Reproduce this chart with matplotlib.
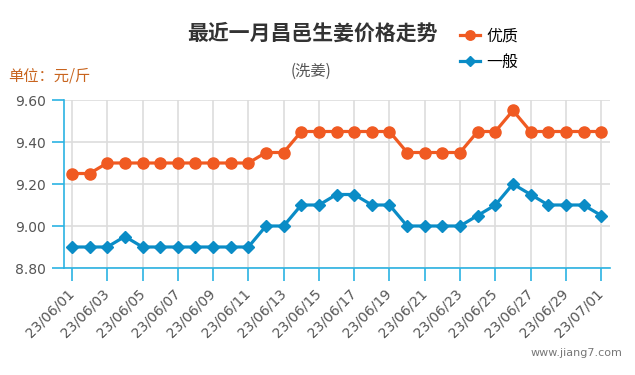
import matplotlib
matplotlib.use("Agg")
import matplotlib.pyplot as plt

plt.rcParams['font.family'] = ['Noto Sans CJK SC', 'DejaVu Sans']

dates = ["23/06/%02d" % d for d in range(1, 31)] + ["23/07/01"]
youzhi = [9.25, 9.25, 9.30, 9.30, 9.30, 9.30, 9.30, 9.30, 9.30, 9.30,
          9.30, 9.35, 9.35, 9.45, 9.45, 9.45, 9.45, 9.45, 9.45, 9.35,
          9.35, 9.35, 9.35, 9.45, 9.45, 9.55, 9.45, 9.45, 9.45, 9.45,
          9.45]
yiban = [8.90, 8.90, 8.90, 8.95, 8.90, 8.90, 8.90, 8.90, 8.90, 8.90,
         8.90, 9.00, 9.00, 9.10, 9.10, 9.15, 9.15, 9.10, 9.10, 9.00,
         9.00, 9.00, 9.00, 9.05, 9.10, 9.20, 9.15, 9.10, 9.10, 9.10,
         9.05]
yticks = [8.80, 9.00, 9.20, 9.40, 9.60]

orange = '#F05A22'
blue = '#0A8CC6'
axis_blue = '#2BB3E3'
txt = '#555555'

fig = plt.figure(figsize=(6.35, 3.75), dpi=100)
ax = fig.add_axes([64 / 635, 1 - 268 / 375, (610 - 64) / 635, (268 - 100) / 375])

x = list(range(len(dates)))
l1, = ax.plot(x, youzhi, color=orange, lw=2.3, marker='o', ms=8, label='优质', zorder=3)
l2, = ax.plot(x, yiban, color=blue, lw=2.3, marker='D', ms=6, label='一般', zorder=3)

ax.set_xlim(-0.45, 30.5)
ax.set_ylim(8.80, 9.60)
ax.set_yticks(yticks)
ax.set_yticklabels(["%.2f" % v for v in yticks], family='DejaVu Sans', fontsize=10, color=txt)
ax.set_xticks(x[::2])
ax.set_xticklabels(dates[::2], rotation=45, ha='right', va='center', rotation_mode='anchor',
                   family='DejaVu Sans', fontsize=10, color=txt)

ax.grid(True, color='#DDDDDD', lw=1.2, zorder=0)
ax.set_axisbelow(True)
for s in ['top', 'right']:
    ax.spines[s].set_visible(False)
for s in ['left', 'bottom']:
    ax.spines[s].set_color(axis_blue)
    ax.spines[s].set_linewidth(1.2)
ax.tick_params(axis='both', colors=axis_blue, length=9, width=1.2, labelcolor=txt)
ax.tick_params(axis='x', pad=8)
ax.tick_params(axis='y', pad=4)

fig.text(312 / 635, 1 - 33 / 375, '最近一月昌邑生姜价格走势', ha='center', va='center',
         fontsize=15, fontweight='bold', color='#333333')
fig.text(311 / 635, 1 - 71 / 375, '(洗姜)', ha='center', va='center', fontsize=11, color=txt)
fig.text(8 / 635, 1 - 76 / 375, '单位：元/斤', ha='left', va='center', fontsize=11, color='#C8641E')
fig.text(622 / 635, 1 - 353 / 375, 'www.jiang7.com', ha='right', va='center', fontsize=8,
         color='#777777', family='DejaVu Sans')

fig.legend(handles=[l1, l2], loc='upper left', bbox_to_anchor=(452 / 635, 1 - 20 / 375),
           frameon=False, fontsize=11.5, handlelength=1.25, handletextpad=0.4,
           labelspacing=0.55, borderpad=0, markerscale=0.85)

plt.savefig("out.png", dpi=100)
